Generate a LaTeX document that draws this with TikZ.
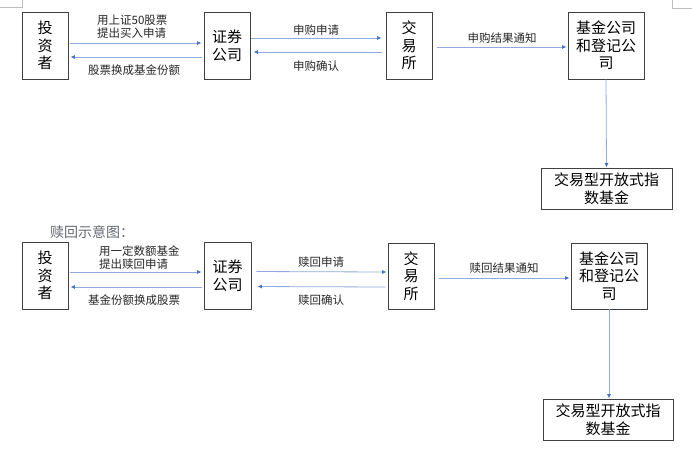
\documentclass[tikz,border=0pt]{standalone}
\usepackage{fontspec}
\setmainfont{Noto Sans CJK SC}
\usetikzlibrary{arrows.meta}
\definecolor{boxline}{RGB}{64,64,64}
\definecolor{arrline}{RGB}{143,170,220}
\definecolor{arrhead}{RGB}{68,114,196}
\definecolor{titlecol}{RGB}{100,104,112}
\definecolor{markcol}{RGB}{190,190,190}
\tikzset{
  box/.style={draw=boxline, line width=0.9pt, inner sep=0pt, align=center,
    font=\fontsize{15}{17.5}\selectfont, text=black},
  conn/.style={draw=arrline, line width=0.8pt,
    -{Latex[length=4.5pt,width=4pt,color=arrhead]}},
  lbl/.style={font=\fontsize{11.5}{13.5}\selectfont, inner sep=0pt, text=black!85},
  cornermark/.style={draw=markcol, line width=0.8pt}
}
\begin{document}
\begin{tikzpicture}[x=1pt,y=-1pt]
\useasboundingbox (0,0) rectangle (692,451);
% page corner marks
\draw[cornermark] (0,7) -- (22,7) -- (22,0);
\draw[cornermark] (672,0) -- (672,8) -- (692,8);

% ---------- top row ----------
\node[box, minimum width=46pt, minimum height=67pt] (inv1) at (45,45.5) {投\\资\\者};
\node[box, minimum width=46pt, minimum height=67pt] (sec1) at (227,45.5) {证券\\公司};
\node[box, minimum width=46pt, minimum height=67pt] (ex1) at (409,45.5) {交\\易\\所};
\node[box, minimum width=76pt, minimum height=67pt] (fund1) at (606,45.5) {基金公司\\和登记公\\司};
\node[box, minimum width=131pt, minimum height=41pt] (etf1) at (606.5,188.5) {交易型开放式指\\数基金};

\draw[conn, shorten <=2pt, shorten >=2pt] ([yshift=2.5pt]inv1.east) -- ([yshift=2.5pt]sec1.west);
\draw[conn, shorten <=2pt, shorten >=2pt] ([yshift=-11.5pt]sec1.west) -- ([yshift=-11.5pt]inv1.east);
\draw[conn, shorten <=1pt, shorten >=4pt] ([yshift=7.5pt]sec1.east) -- ([yshift=7.5pt]ex1.west);
\draw[conn, shorten <=4pt, shorten >=3pt] ([yshift=-6.5pt]ex1.west) -- ([yshift=-6.5pt]sec1.east);
\draw[conn, shorten <=5pt, shorten >=1pt] ([yshift=-1.5pt]ex1.east) -- ([yshift=-1.5pt]fund1.west);
\draw[conn] (fund1.south) -- (etf1.north);

\node[lbl, anchor=west, align=left] (l1) at (97,26.5) {用上证50股票\\提出买入申请};
\node[lbl] (l2) at (134,70) {股票换成基金份额};
\node[lbl] (l3) at (316,30) {申购申请};
\node[lbl] (l4) at (316,66) {申购确认};
\node[lbl] (l5) at (502,38) {申购结果通知};

% ---------- bottom ----------
\node[font=\fontsize{14}{16}\selectfont, text=titlecol, anchor=west, inner sep=0pt] (title) at (50,232) {赎回示意图：};

\node[box, minimum width=46pt, minimum height=67pt] (inv2) at (45,275.5) {投\\资\\者};
\node[box, minimum width=47pt, minimum height=67pt] (sec2) at (227.5,275.5) {证券\\公司};
\node[box, minimum width=46pt, minimum height=66pt] (ex2) at (411,276) {交\\易\\所};
\node[box, minimum width=76pt, minimum height=66pt] (fund2) at (609,276) {基金公司\\和登记公\\司};
\node[box, minimum width=130pt, minimum height=41pt] (etf2) at (608,419.5) {交易型开放式指\\数基金};

\draw[conn, shorten <=2pt, shorten >=2pt] ([yshift=3.5pt]inv2.east) -- ([yshift=3.5pt]sec2.west);
\draw[conn, shorten <=2pt, shorten >=2pt] ([yshift=-11.5pt]sec2.west) -- ([yshift=-11.5pt]inv2.east);
\draw[conn, shorten <=5pt, shorten >=1pt] ([yshift=4pt]sec2.east) -- ([yshift=4pt]ex2.west);
\draw[conn, shorten <=2pt, shorten >=6pt] ([yshift=-11pt]ex2.west) -- ([yshift=-11pt]sec2.east);
\draw[conn, shorten <=5pt, shorten >=1pt] ([yshift=-2pt]ex2.east) -- ([yshift=-2pt]fund2.west);
\draw[conn] (fund2.south) -- (fund2.south |- etf2.north);

\node[lbl, anchor=west, align=left] (m1) at (99,257.5) {用一定数额基金\\提出赎回申请};
\node[lbl] (m2) at (134,300) {基金份额换成股票};
\node[lbl] (m3) at (321,262) {赎回申请};
\node[lbl] (m4) at (321,300) {赎回确认};
\node[lbl] (m5) at (504,268) {赎回结果通知};
\end{tikzpicture}
\end{document}
